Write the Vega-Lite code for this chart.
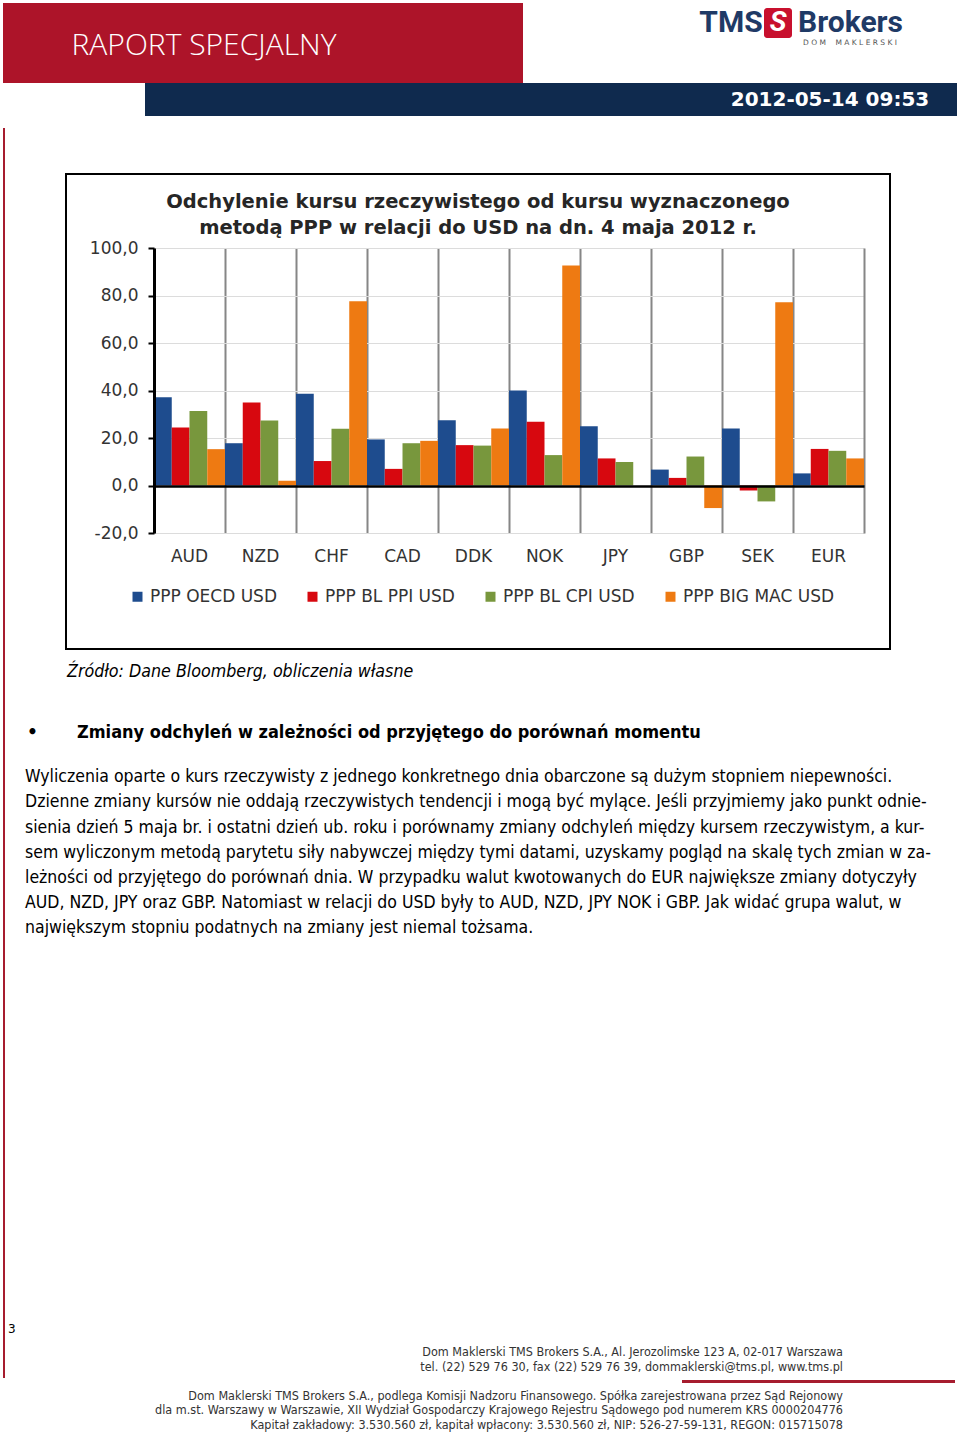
{
 "$schema": "https://vega.github.io/schema/vega-lite/v6.json",
 "background": "white",
 "padding": 0,
 "config": {"view": {"stroke": null}, "concat": {"spacing": 0}, "font": "DejaVu Sans", "title": {"fontWeight": "normal", "color": "#000000"}},
 "vconcat": [
  {"width": 960, "height": 3, "data": {"values": []}, "mark": "rect"},
  {"hconcat": [
   {"width": 3, "height": 80, "data": {"values": []}, "mark": "rect"},
   {"width": 64, "height": 80, "view": {"fill": "#AD1429"}, "data": {"values": []}, "mark": "rect"},
   {"width": 274, "height": 80, "view": {"fill": "#AD1429"}, "data": {"values": [{"t": "RAPORT SPECJALNY"}]}, "mark": {"type": "text", "font": "Open Sans", "fontSize": 30, "fontWeight": 300, "color": "#FFFFFF", "dy": 3}, "encoding": {"text": {"field": "t"}}},
   {"width": 182, "height": 80, "view": {"fill": "#AD1429"}, "data": {"values": []}, "mark": "rect"},
   {"width": 176, "height": 80, "data": {"values": []}, "mark": "rect"},
   {"vconcat": [
     {"width": 204, "height": 5, "data": {"values": []}, "mark": "rect"},
     {"hconcat": [
       {"width": 62, "height": 30, "data": {"values": [{"t": "TMS"}]}, "mark": {"type": "text", "font": "Roboto", "fontWeight": "bold", "fontSize": 30, "color": "#1F3A66"}, "encoding": {"text": {"field": "t"}}},
       {"width": 1, "height": 30, "data": {"values": []}, "mark": "rect"},
       {"width": 28, "height": 30, "view": {"fill": "#C8102E", "cornerRadius": 3}, "data": {"values": [{"t": "S"}]}, "mark": {"type": "text", "font": "Roboto", "fontWeight": "bold", "fontStyle": "italic", "fontSize": 28, "color": "#FFFFFF"}, "encoding": {"text": {"field": "t"}}},
       {"width": 4, "height": 30, "data": {"values": []}, "mark": "rect"},
       {"width": 109, "height": 30, "data": {"values": [{"t": "Brokers"}]}, "mark": {"type": "text", "font": "Roboto", "fontWeight": "bold", "fontSize": 30, "color": "#1F3A66"}, "encoding": {"text": {"field": "t"}}}
     ]},
     {"hconcat": [
       {"width": 96, "height": 9, "data": {"values": []}, "mark": "rect"},
       {"width": 108, "height": 9, "data": {"values": [{"t": "D O M\u00a0\u00a0\u00a0\u00a0M A K L E R S K I"}]}, "mark": {"type": "text", "font": "DejaVu Sans", "fontSize": 7.5, "color": "#555555"}, "encoding": {"text": {"field": "t"}}}
     ]},
     {"width": 204, "height": 36, "data": {"values": []}, "mark": "rect"}
   ]},
   {"width": 57, "height": 80, "data": {"values": []}, "mark": "rect"}
  ]},
  {"hconcat": [
   {"width": 145, "height": 33, "data": {"values": []}, "mark": "rect"},
   {"width": 575, "height": 33, "view": {"fill": "#0F2A4E"}, "data": {"values": []}, "mark": "rect"},
   {"width": 220, "height": 33, "view": {"fill": "#0F2A4E"}, "data": {"values": [{"t": "2012-05-14 09:53"}]}, "mark": {"type": "text", "font": "DejaVu Sans", "fontWeight": "bold", "fontSize": 20, "color": "#FFFFFF"}, "encoding": {"text": {"field": "t"}}},
   {"width": 17, "height": 33, "view": {"fill": "#0F2A4E"}, "data": {"values": []}, "mark": "rect"},
   {"width": 3, "height": 33, "data": {"values": []}, "mark": "rect"}
  ]},
  {"width": 960, "height": 12, "data": {"values": []}, "mark": "rect"},
  {"hconcat": [
   {"width": 3, "height": 1250, "data": {"values": []}, "mark": "rect"},
   {"width": 2, "height": 1250, "view": {"fill": "#A61C2E"}, "data": {"values": []}, "mark": "rect"},
   {"vconcat": [
     {"width": 955, "height": 45, "data": {"values": []}, "mark": "rect"},
     {"hconcat": [
       {"width": 60, "height": 475, "data": {"values": []}, "mark": "rect"},
       {
        "width": 824,
        "height": 475,
        "view": {"stroke": "#000000", "strokeWidth": 2, "fill": "#FFFFFF"},
        "title": {"text": ["Odchylenie kursu rzeczywistego od kursu wyznaczonego", "metodą PPP w relacji do USD na dn. 4 maja 2012 r."], "anchor": "middle", "frame": "group", "offset": -64, "font": "DejaVu Sans", "fontSize": 19.5, "fontWeight": "bold", "color": "#262626", "lineHeight": 26},
        "data": {"values": [
          {"c": "AUD", "s": "PPP OECD USD", "v": 37.2}, {"c": "AUD", "s": "PPP BL PPI USD", "v": 24.4}, {"c": "AUD", "s": "PPP BL CPI USD", "v": 31.4}, {"c": "AUD", "s": "PPP BIG MAC USD", "v": 15.3},
          {"c": "NZD", "s": "PPP OECD USD", "v": 17.8}, {"c": "NZD", "s": "PPP BL PPI USD", "v": 35.0}, {"c": "NZD", "s": "PPP BL CPI USD", "v": 27.4}, {"c": "NZD", "s": "PPP BIG MAC USD", "v": 2.0},
          {"c": "CHF", "s": "PPP OECD USD", "v": 38.6}, {"c": "CHF", "s": "PPP BL PPI USD", "v": 10.3}, {"c": "CHF", "s": "PPP BL CPI USD", "v": 23.9}, {"c": "CHF", "s": "PPP BIG MAC USD", "v": 77.6},
          {"c": "CAD", "s": "PPP OECD USD", "v": 19.4}, {"c": "CAD", "s": "PPP BL PPI USD", "v": 7.0}, {"c": "CAD", "s": "PPP BL CPI USD", "v": 17.8}, {"c": "CAD", "s": "PPP BIG MAC USD", "v": 18.8},
          {"c": "DDK", "s": "PPP OECD USD", "v": 27.5}, {"c": "DDK", "s": "PPP BL PPI USD", "v": 17.0}, {"c": "DDK", "s": "PPP BL CPI USD", "v": 16.8}, {"c": "DDK", "s": "PPP BIG MAC USD", "v": 24.0},
          {"c": "NOK", "s": "PPP OECD USD", "v": 40.0}, {"c": "NOK", "s": "PPP BL PPI USD", "v": 26.8}, {"c": "NOK", "s": "PPP BL CPI USD", "v": 12.8}, {"c": "NOK", "s": "PPP BIG MAC USD", "v": 92.6},
          {"c": "JPY", "s": "PPP OECD USD", "v": 24.9}, {"c": "JPY", "s": "PPP BL PPI USD", "v": 11.4}, {"c": "JPY", "s": "PPP BL CPI USD", "v": 9.9},
          {"c": "GBP", "s": "PPP OECD USD", "v": 6.7}, {"c": "GBP", "s": "PPP BL PPI USD", "v": 3.2}, {"c": "GBP", "s": "PPP BL CPI USD", "v": 12.2}, {"c": "GBP", "s": "PPP BIG MAC USD", "v": -9.5},
          {"c": "SEK", "s": "PPP OECD USD", "v": 24.0}, {"c": "SEK", "s": "PPP BL PPI USD", "v": -2.1}, {"c": "SEK", "s": "PPP BL CPI USD", "v": -6.7}, {"c": "SEK", "s": "PPP BIG MAC USD", "v": 77.2},
          {"c": "EUR", "s": "PPP OECD USD", "v": 5.1}, {"c": "EUR", "s": "PPP BL PPI USD", "v": 15.4}, {"c": "EUR", "s": "PPP BL CPI USD", "v": 14.6}, {"c": "EUR", "s": "PPP BIG MAC USD", "v": 11.4}
        ]},
        "layer": [
         {
          "mark": {"type": "bar"},
          "encoding": {
           "x": {"field": "c", "type": "nominal", "sort": ["AUD", "NZD", "CHF", "CAD", "DDK", "NOK", "JPY", "GBP", "SEK", "EUR"],
                 "scale": {"range": [88, 798], "paddingInner": 0, "paddingOuter": 0},
                 "axis": {"orient": "bottom", "offset": -116, "grid": false, "domain": false, "ticks": false, "tickSize": 0, "labelPadding": 15, "labelFontSize": 17, "labelFont": "DejaVu Sans", "labelColor": "#333333", "labelAngle": 0, "title": null}},
           "xOffset": {"field": "s", "type": "nominal", "sort": ["PPP OECD USD", "PPP BL PPI USD", "PPP BL CPI USD", "PPP BIG MAC USD"], "scale": {"paddingInner": 0, "paddingOuter": 0}},
           "y": {"field": "v", "type": "quantitative",
                 "scale": {"domain": [-20, 100], "range": [359, 74], "nice": false, "zero": false},
                 "axis": {"orient": "left", "offset": -88, "zindex": 1, "values": [-20, 0, 20, 40, 60, 80, 100], "labelExpr": "replace(replace(format(datum.value, '.1f'), '.', ','), '−', '-')", "labelFontSize": 17, "labelFont": "DejaVu Sans", "labelColor": "#333333", "labelPadding": 10, "tickSize": 6, "tickColor": "#000000", "tickWidth": 2, "domainColor": "#000000", "domainWidth": 3, "grid": true, "gridColor": "#000000", "gridWidth": 2.5, "gridOpacity": {"condition": {"test": "datum.value === 0", "value": 1}, "value": 0}, "title": null}},
           "color": {"field": "s", "type": "nominal", "sort": ["PPP OECD USD", "PPP BL PPI USD", "PPP BL CPI USD", "PPP BIG MAC USD"],
                     "scale": {"domain": ["PPP OECD USD", "PPP BL PPI USD", "PPP BL CPI USD", "PPP BIG MAC USD"], "range": ["#1E4C8E", "#D7080F", "#78973D", "#EE7A12"]},
                     "legend": {"orient": "none", "legendX": 129, "legendY": 588, "direction": "horizontal", "columns": 4, "title": null, "symbolType": "square", "symbolSize": 100, "symbolStrokeWidth": 0, "labelFontSize": 17, "labelFont": "DejaVu Sans", "labelColor": "#333333", "labelOffset": 4, "columnPadding": 27, "labelLimit": 400}}
          }
         },
         {
          "data": {"values": [{"z": 0}]},
          "mark": {"type": "rule", "opacity": 0},
          "encoding": {
           "y": {"field": "z", "type": "quantitative",
                 "axis": {"orient": "right", "offset": -26, "labels": false, "ticks": false, "title": null, "domain": true, "domainColor": "#868686", "domainWidth": 2, "grid": false}}
          }
         },
         {
          "mark": {"type": "point", "opacity": 0},
          "encoding": {
           "x": {"field": "c", "type": "nominal", "sort": ["AUD", "NZD", "CHF", "CAD", "DDK", "NOK", "JPY", "GBP", "SEK", "EUR"],
                 "axis": {"orient": "top", "offset": 0, "bandPosition": 0, "grid": true, "gridColor": "#868686", "gridWidth": 2, "labels": false, "domain": false, "ticks": false, "title": null, "zindex": 0}},
           "y": {"field": "v", "type": "quantitative",
                 "axis": {"orient": "left", "offset": -88, "values": [-20, 0, 20, 40, 60, 80, 100], "grid": true, "gridColor": "#DCDCDC", "gridWidth": 1, "labels": false, "domain": false, "ticks": false, "title": null, "zindex": 0}}
          }
         }
        ],
        "resolve": {"axis": {"x": "independent", "y": "independent"}}
       }
     ]},
     {"width": 955, "height": 13, "data": {"values": []}, "mark": "rect"},
     {"hconcat": [
       {"width": 62, "height": 1, "data": {"values": []}, "mark": "rect"},
       {"width": 700, "height": 1, "data": {"values": []}, "mark": "rect",
        "title": {"text": "Źródło: Dane Bloomberg, obliczenia własne", "anchor": "start", "frame": "group", "offset": 0, "font": "DejaVu Sans Condensed", "fontSize": 17.7, "fontStyle": "italic", "fontWeight": "normal", "color": "#000000"}}
     ]},
     {"width": 955, "height": 42, "data": {"values": []}, "mark": "rect"},
     {"hconcat": [
       {"width": 22, "height": 1, "data": {"values": []}, "mark": "rect"},
       {"width": 50, "height": 1, "data": {"values": []}, "mark": "rect",
        "title": {"text": "•", "anchor": "start", "frame": "group", "offset": 0, "font": "DejaVu Sans", "fontSize": 17, "fontWeight": "bold", "color": "#000000"}},
       {"width": 850, "height": 1, "data": {"values": []}, "mark": "rect",
        "title": {"text": "Zmiany odchyleń w zależności od przyjętego do porównań momentu", "anchor": "start", "frame": "group", "offset": 0, "font": "DejaVu Sans Condensed", "fontSize": 18, "fontWeight": "bold", "color": "#000000"}}
     ]},
     {"width": 955, "height": 25, "data": {"values": []}, "mark": "rect"},
     {"hconcat": [
       {"width": 20, "height": 1, "data": {"values": []}, "mark": "rect"},
       {"width": 930, "height": 1, "data": {"values": []}, "mark": "rect",
        "title": {"text": [
          "Wyliczenia oparte o kurs rzeczywisty z jednego konkretnego dnia obarczone są dużym stopniem niepewności.",
          "Dzienne zmiany kursów nie oddają rzeczywistych tendencji i mogą być mylące. Jeśli przyjmiemy jako punkt odnie-",
          "sienia dzień 5 maja br. i  ostatni dzień ub. roku i porównamy zmiany odchyleń między kursem rzeczywistym, a kur-",
          "sem wyliczonym metodą parytetu siły nabywczej między tymi datami, uzyskamy pogląd na skalę tych zmian w za-",
          "leżności od przyjętego do porównań dnia. W przypadku walut kwotowanych do EUR największe zmiany dotyczyły",
          "AUD, NZD, JPY oraz GBP. Natomiast w relacji do USD były to AUD, NZD, JPY NOK i GBP. Jak widać grupa walut, w",
          "największym stopniu podatnych na zmiany jest niemal tożsama."],
          "anchor": "start", "frame": "group", "offset": 0, "font": "DejaVu Sans Condensed", "fontSize": 17.5, "fontWeight": "normal", "color": "#000000", "lineHeight": 25.2}}
     ]},
     {"width": 955, "height": 385, "data": {"values": []}, "mark": "rect"},
     {"hconcat": [
       {"width": 3, "height": 1, "data": {"values": []}, "mark": "rect"},
       {"width": 30, "height": 1, "data": {"values": []}, "mark": "rect",
        "title": {"text": "3", "anchor": "start", "frame": "group", "offset": 0, "font": "DejaVu Sans", "fontSize": 12, "fontWeight": "normal", "color": "#000000"}}
     ]},
     {"width": 955, "height": 9, "data": {"values": []}, "mark": "rect"},
     {"width": 838, "height": 1, "data": {"values": []}, "mark": "rect",
      "title": {"text": ["Dom Maklerski TMS Brokers S.A., Al. Jerozolimske 123 A, 02-017 Warszawa", "tel. (22) 529 76 30, fax (22) 529 76 39, dommaklerski@tms.pl, www.tms.pl"],
        "anchor": "end", "frame": "group", "offset": 0, "font": "DejaVu Sans Condensed", "fontSize": 12.5, "fontWeight": "normal", "color": "#333333", "lineHeight": 14.5}},
     {"width": 955, "height": 6, "data": {"values": []}, "mark": "rect"},
     {"hconcat": [
       {"width": 677, "height": 3, "data": {"values": []}, "mark": "rect"},
       {"width": 273, "height": 3, "view": {"fill": "#A61C2E"}, "data": {"values": []}, "mark": "rect"}
     ]},
     {"width": 955, "height": 6, "data": {"values": []}, "mark": "rect"},
     {"width": 838, "height": 1, "data": {"values": []}, "mark": "rect",
      "title": {"text": ["Dom Maklerski TMS Brokers S.A., podlega Komisji Nadzoru Finansowego. Spółka zarejestrowana przez Sąd Rejonowy", "dla m.st. Warszawy w Warszawie, XII Wydział Gospodarczy Krajowego Rejestru Sądowego pod numerem KRS 0000204776", "Kapitał zakładowy: 3.530.560 zł, kapitał wpłacony: 3.530.560 zł, NIP: 526-27-59-131, REGON: 015715078"],
        "anchor": "end", "frame": "group", "offset": 0, "font": "DejaVu Sans Condensed", "fontSize": 12.5, "fontWeight": "normal", "color": "#333333", "lineHeight": 14.5}},
     {"width": 955, "height": 1, "data": {"values": []}, "mark": "rect"}
   ]}
  ]}
 ]
}
